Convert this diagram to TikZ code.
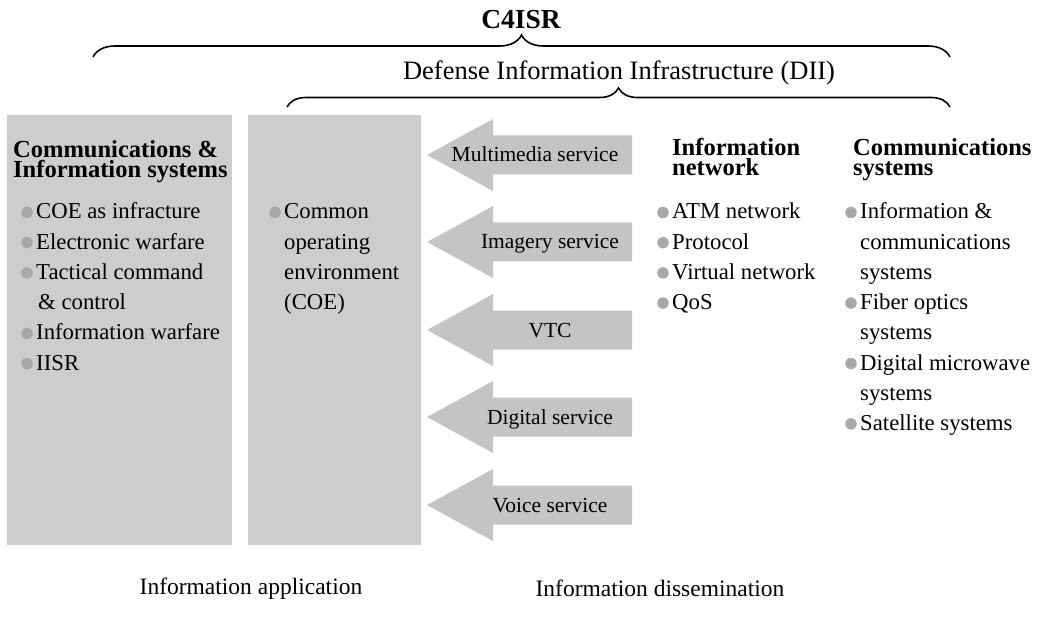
\documentclass[tikz,border=0pt]{standalone}
\usepackage{fontspec}
\setmainfont{Liberation Serif}
\usetikzlibrary{decorations.pathreplacing}
\definecolor{boxgray}{HTML}{CDCDCD}
\definecolor{arrowgray}{HTML}{C4C4C4}
\definecolor{dotgray}{HTML}{A8A8A8}
\newcommand\svcarrowpath[1]{\fill[svcarrow] (427,#1) -- (493,#1-36) -- (493,#1-19.5) -- (632,#1-19.5) -- (632,#1+19.5) -- (493,#1+19.5) -- (493,#1+36) -- cycle;}
\newcommand\bitem[4]{\node[bdot] (#1dot) at (#2-9,#3-6.5) {}; \node[itemtext] (#1) at (#2,#3) {#4};}
\newcommand\citem[4]{\node[itemtext] (#1) at (#2,#3) {#4};}
\begin{document}
\begin{tikzpicture}[x=1pt,y=-1pt,
  panel/.style={fill=boxgray, draw=none},
  svcarrow/.style={fill=arrowgray, draw=none},
  itemtext/.style={font=\fontsize{22.75}{30.2}\selectfont, inner sep=0pt, anchor=base west},
  headtext/.style={font=\bfseries\fontsize{24.5}{19.5}\selectfont, inner sep=0pt, anchor=base west},
  svclabel/.style={font=\fontsize{21.5}{24}\selectfont, inner sep=0pt, anchor=base},
  bdot/.style={circle, fill=dotgray, minimum size=11.5pt, inner sep=0pt},
  bracestyle/.style={decorate, line width=1.6pt, decoration={brace, amplitude=#1}},
  bracestyle/.default=20,
  bottomlabel/.style={font=\fontsize{23.5}{28}\selectfont, inner sep=0pt, anchor=base}
]
\useasboundingbox (0,0) rectangle (1039,631);

% top labels and braces
\node[font=\bfseries\fontsize{27.5}{30}\selectfont, inner sep=0pt] (c4) at (521,20) {C4ISR};
\coordinate (b1l) at (93,57);
\coordinate (b1r) at (950,57);
\draw[bracestyle=22] (b1l) -- (b1r);
\node[font=\fontsize{26.5}{30}\selectfont, inner sep=0pt] (dii) at (619,73) {Defense Information Infrastructure (DII)};
\coordinate (b2l) at (287,107);
\coordinate (b2r) at (950,107);
\draw[bracestyle=19] (b2l) -- (b2r);

% panels
\fill[panel] (7,115) rectangle (232,545);
\fill[panel] (248,115) rectangle (421,545);

% arrows
\svcarrowpath{155}
\svcarrowpath{242}
\svcarrowpath{330}
\svcarrowpath{417}
\svcarrowpath{505}
\node[svclabel] (a1) at (535,162) {Multimedia service};
\node[svclabel] (a2) at (550,249) {Imagery service};
\node[svclabel] (a3) at (550,337) {VTC};
\node[svclabel] (a4) at (550,424) {Digital service};
\node[svclabel] (a5) at (550,512) {Voice service};

% left panel
\node[headtext] (cih1) at (13,158) {Communications \&};
\node[headtext] (cih2) at (13,177.5) {Information systems};
\bitem{l1}{36}{219}{COE as infracture}
\bitem{l2}{36}{249.2}{Electronic warfare}
\bitem{l3}{36}{279.4}{Tactical command}
\citem{l3b}{38}{309.6}{\& control}
\bitem{l4}{36}{339.8}{Information warfare}
\bitem{l5}{36}{370}{IISR}

% COE panel
\bitem{coe1}{284}{219}{Common}
\citem{coe2}{284}{249.2}{operating}
\citem{coe3}{284}{279.4}{environment}
\citem{coe4}{284}{309.6}{(COE)}

% information network
\node[headtext] (inh1) at (672,156) {Information};
\node[headtext] (inh2) at (672,175.5) {network};
\bitem{n1}{672}{219}{ATM network}
\bitem{n2}{672}{249.2}{Protocol}
\bitem{n3}{672}{279.4}{Virtual network}
\bitem{n4}{672}{309.6}{QoS}

% communications systems
\node[headtext] (csh1) at (853,156) {Communications};
\node[headtext] (csh2) at (853,175.5) {systems};
\bitem{s1}{860}{219}{Information \&}
\citem{s1b}{860}{249.2}{communications}
\citem{s1c}{860}{279.4}{systems}
\bitem{s2}{860}{309.6}{Fiber optics}
\citem{s2b}{860}{339.8}{systems}
\bitem{s3}{860}{370}{Digital microwave}
\citem{s3b}{860}{400.2}{systems}
\bitem{s4}{860}{430.4}{Satellite systems}

% bottom labels
\node[bottomlabel] (app) at (251,594) {Information application};
\node[bottomlabel] (dis) at (660,596) {Information dissemination};
\end{tikzpicture}
\end{document}
